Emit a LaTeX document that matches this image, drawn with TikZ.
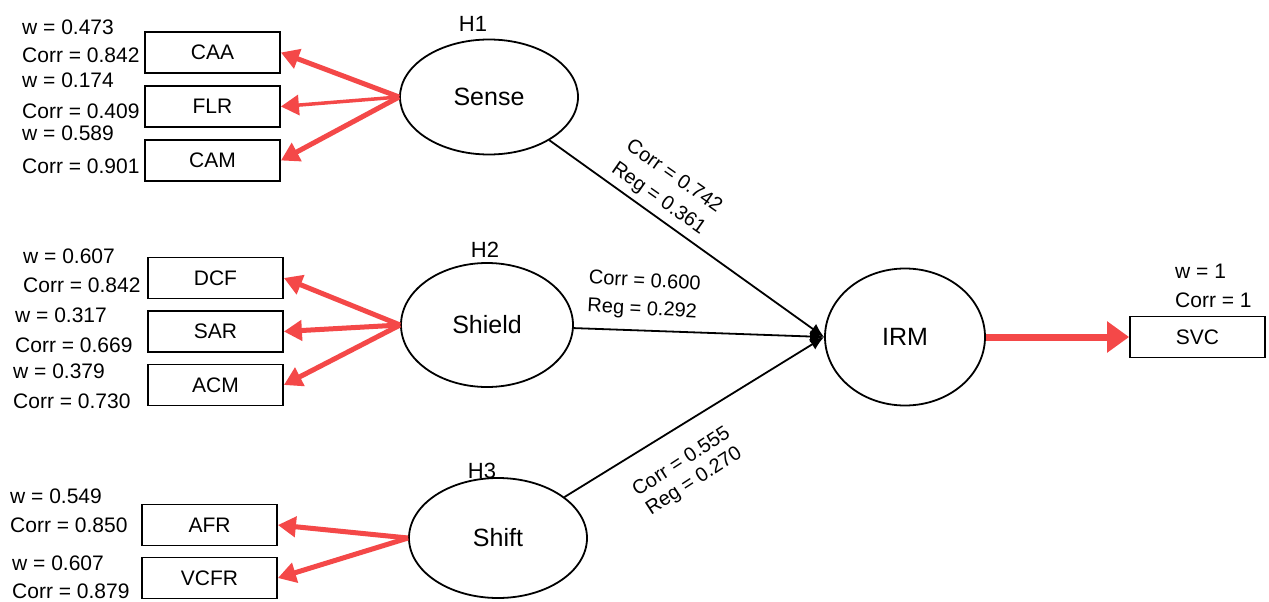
\documentclass[tikz,border=0pt]{standalone}
\usepackage{fontspec}
\setmainfont{Liberation Sans}
\usetikzlibrary{shapes.geometric,arrows.meta}
\definecolor{redarr}{RGB}{244,72,72}
\begin{document}
\begin{tikzpicture}[x=1pt,y=-1pt,
  box/.style={draw,line width=1.8pt,minimum width=135pt,minimum height=41pt,inner sep=0pt,font=\fontsize{21}{21}\selectfont},
  lat/.style={draw,ellipse,line width=1.8pt,inner sep=0pt,font=\fontsize{25}{25}\selectfont},
  lbl/.style={anchor=base west,inner sep=0pt,font=\fontsize{21}{21}\selectfont},
  hlbl/.style={anchor=base,inner sep=0pt,font=\fontsize{22}{22}\selectfont},
  rot/.style={inner sep=0pt,align=center},
  redarrow/.style={draw=redarr,line width=5pt,-{Triangle[length=18pt,width=20pt]}},
  blk/.style={line width=1.8pt,-{Latex[length=14pt,width=12pt]}},
]
\useasboundingbox[fill=white] (0,0) rectangle (1269,602);

% latent variables
\node[lat,minimum width=178pt,minimum height=115pt] (sense) at (489,97) {Sense};
\node[lat,minimum width=172pt,minimum height=124pt] (shield) at (487,325) {Shield};
\node[lat,minimum width=178pt,minimum height=120pt] (shift) at (498,538) {Shift};
\node[lat,minimum width=160pt,minimum height=137pt] (irm) at (905,337) {IRM};

\node[hlbl] (h1) at (473,32) {H1};
\node[hlbl] (h2) at (485,257) {H2};
\node[hlbl] (h3) at (482,478) {H3};

% indicator boxes
\node[box] (caa) at (212.5,52.5) {CAA};
\node[box] (flr) at (212.5,106.5) {FLR};
\node[box] (cam) at (212.5,160.5) {CAM};
\node[box] (dcf) at (215.5,278) {DCF};
\node[box] (sar) at (215.5,331.5) {SAR};
\node[box] (acm) at (215.5,385) {ACM};
\node[box] (afr) at (209.5,525) {AFR};
\node[box] (vcfr) at (209.5,578) {VCFR};
\node[box] (svc) at (1197.5,337) {SVC};

% weights
\node[lbl] (w1) at (22,35) {w = 0.473};
\node[lbl] (k1) at (22,63) {Corr = 0.842};
\node[lbl] (w2) at (22,88) {w = 0.174};
\node[lbl] (k2) at (22,118) {Corr = 0.409};
\node[lbl] (w3) at (22,140) {w = 0.589};
\node[lbl] (k3) at (22,173) {Corr = 0.901};
\node[lbl] (w4) at (23,263) {w = 0.607};
\node[lbl] (k4) at (23,292) {Corr = 0.842};
\node[lbl] (w5) at (15,322) {w = 0.317};
\node[lbl] (k5) at (15,352) {Corr = 0.669};
\node[lbl] (w6) at (13,378) {w = 0.379};
\node[lbl] (k6) at (13,408) {Corr = 0.730};
\node[lbl] (w7) at (10,503) {w = 0.549};
\node[lbl] (k7) at (10,532) {Corr = 0.850};
\node[lbl] (w8) at (12,570) {w = 0.607};
\node[lbl] (k8) at (12,598) {Corr = 0.879};
\node[lbl] (w9) at (1175,278) {w = 1};
\node[lbl] (k9) at (1175,307) {Corr = 1};

% red arrows
\draw[redarrow] (sense.west) -- (caa.east);
\draw[redarrow,line width=3.5pt] (sense.west) -- (flr.east);
\draw[redarrow] (sense.west) -- (cam.east);
\draw[redarrow] (shield.west) -- (dcf.east);
\draw[redarrow] (shield.west) -- (sar.east);
\draw[redarrow] (shield.west) -- (acm.east);
\draw[redarrow] (shift.west) -- (afr.east);
\draw[redarrow] (shift.west) -- (vcfr.east);
\draw[redarrow,line width=7pt,-{Triangle[length=22pt,width=30pt]}] (irm.east) -- (svc.west);

% structural paths
\draw[blk] (sense) -- (irm.west);
\draw[blk] (shield) -- (irm.west);
\draw[blk] (shift) -- (irm.west);

\node[rot,rotate=-35,font=\fontsize{20}{27}\selectfont] (p1) at (666,188) {Corr = 0.742\\Reg = 0.361};
\node[rot,rotate=-3,align=left,font=\fontsize{20}{28}\selectfont] (p2) at (644,296) {Corr = 0.600\\Reg = 0.292};
\node[rot,rotate=33,font=\fontsize{20}{23}\selectfont] (p3) at (688,472) {Corr = 0.555\\Reg = 0.270};
\end{tikzpicture}
\end{document}
